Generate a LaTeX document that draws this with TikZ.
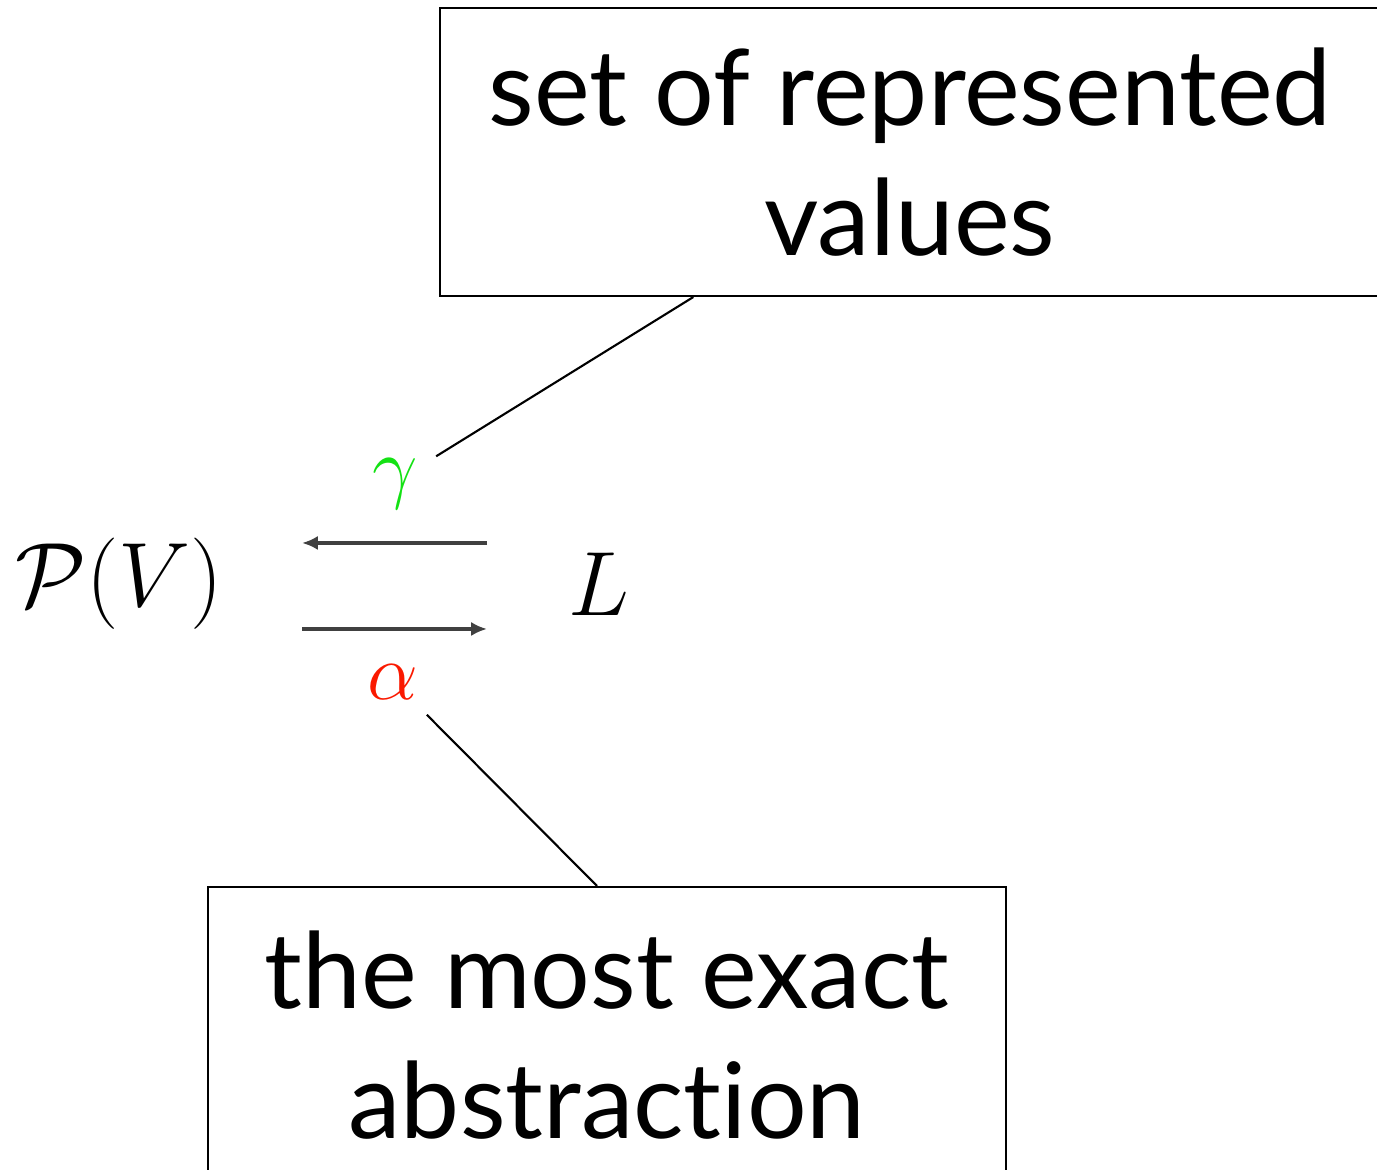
\documentclass[tikz,border=0pt]{standalone}
\usepackage{fix-cm}
\usepackage{amssymb,amsmath}
\usepackage{fontspec}
\setmainfont[Ligatures={NoCommon}]{Lato}
\usepackage{tikz}
\usetikzlibrary{calc,arrows.meta}

\definecolor{gammagreen}{RGB}{20,225,20}
\definecolor{alphared}{RGB}{250,25,0}

\begin{document}
\begin{tikzpicture}[
        note/.style={draw,line width=0.6pt,align=center,inner sep=0pt,
            font=\fontsize{30}{37}\selectfont},
        lattice/.style={font=\fontsize{26}{30}\selectfont},
        greek/.style={font=\fontsize{23}{28}\selectfont},
        map/.style={draw=black!75,line width=0.9pt,-{Latex[length=4.5pt,width=4pt]}},
        leader/.style={line width=0.6pt}]
    \useasboundingbox (0,0) rectangle (13.77,11.70);

    % Lattices
    \node[lattice] (pv) at (1.19,5.86) {$\mathcal{P}(V)$};
    \node[lattice] (l) at (5.99,5.86) {$L$};

    % Maps
    \coordinate (gs) at (4.87,6.27);
    \coordinate (ge) at (3.02,6.27);
    \coordinate (as) at (3.02,5.41);
    \coordinate (ae) at (4.87,5.41);
    \node[greek,text=gammagreen] (gamma) at (3.95,6.86) {$\gamma$};
    \node[greek,text=alphared] (alpha) at (3.93,4.88) {$\alpha$};

    % Notes
    \node[note,minimum width=9.40cm,minimum height=2.88cm] (values) at (9.10,10.18)
        {set of represented\\values};
    \node[note,minimum width=7.98cm,minimum height=2.96cm,anchor=north] (exact) at (6.07,2.84)
        {the most exact\\abstraction};

    % Edges
    \draw[map] (gs) -- (ge);
    \draw[map] (as) -- (ae);
    \draw[leader] ([shift={(0.06,-0.1)}]gamma.north east)
        -- ($(values.south west)!0.27!(values.south east)$);
    \draw[leader] ([shift={(-0.04,-0.03)}]alpha.south east)
        -- ($(exact.north west)!0.4875!(exact.north east)$);
\end{tikzpicture}
\end{document}
